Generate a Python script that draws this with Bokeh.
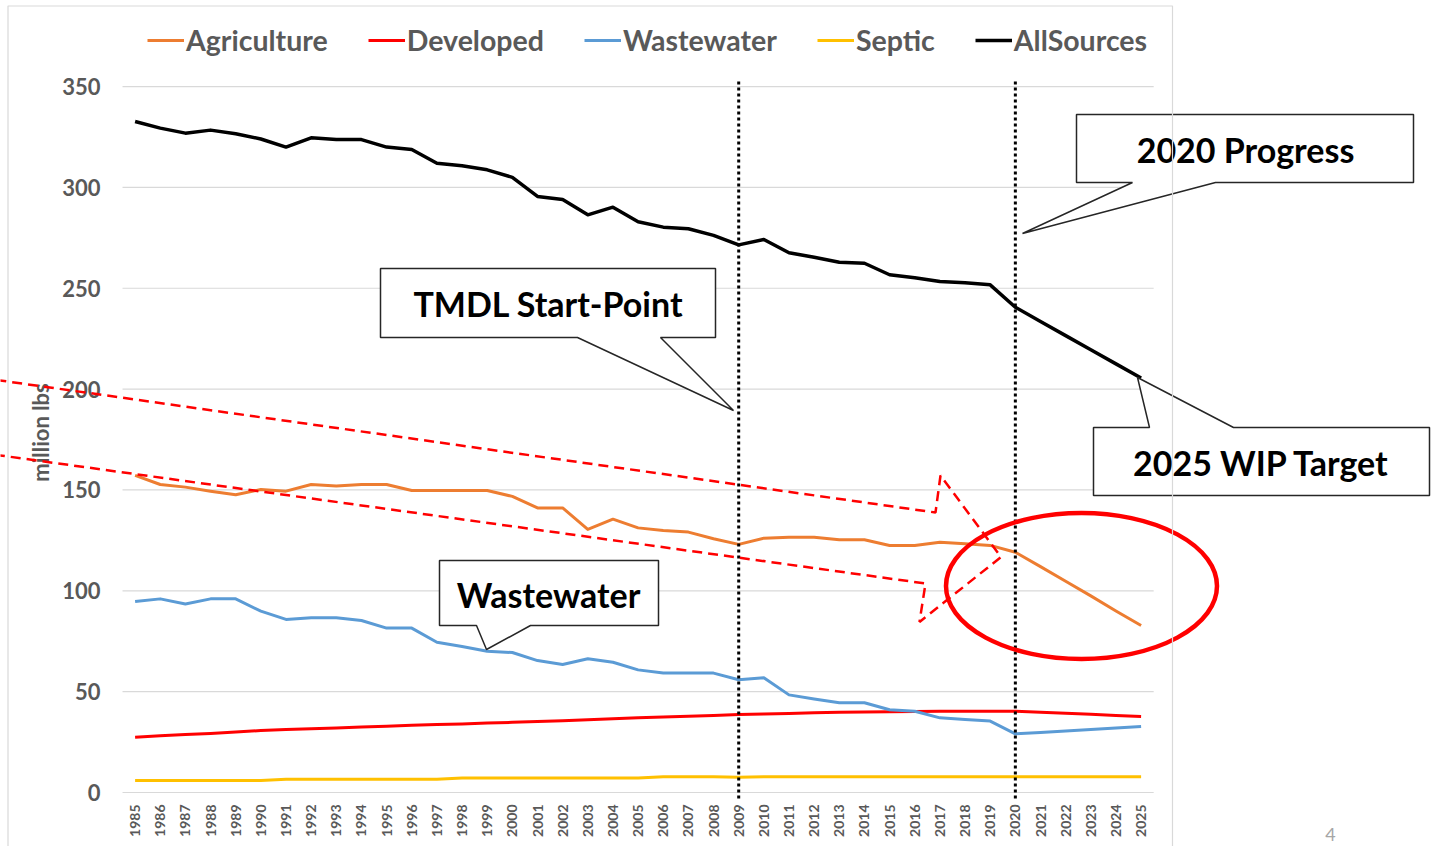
import math
from bokeh.plotting import figure
from bokeh.models import Range1d, Legend, LegendItem, PolyAnnotation, BoxAnnotation
from bokeh.core.properties import value
from bokeh.embed import file_html
from bokeh.resources import INLINE

# ---------------- data ----------------
years = list(range(1985, 2026))
agriculture = [157.2, 152.7, 151.4, 149.4, 147.6, 150.2, 149.4, 152.7, 151.9, 152.7,
               152.7, 149.7, 149.7, 149.7, 149.7, 146.8, 141.1, 141.1, 130.4, 135.5,
               131.2, 129.9, 129.1, 125.8, 123.0, 126.1, 126.6, 126.6, 125.3, 125.3,
               122.5, 122.5, 124.1, 123.3, 122.5, 119.1, 112.0, 104.7, 97.5, 90.0,
               82.8]
developed = [27.4, 28.1, 28.7, 29.3, 30.0, 30.7, 31.2, 31.6, 32.0, 32.5,
             32.9, 33.3, 33.7, 34.0, 34.4, 34.8, 35.2, 35.6, 36.1, 36.6,
             37.0, 37.4, 37.8, 38.2, 38.7, 38.9, 39.2, 39.5, 39.8, 39.9,
             40.0, 40.1, 40.3, 40.3, 40.3, 40.3, 39.8, 39.3, 38.8, 38.2,
             37.7]
wastewater = [94.7, 96.0, 93.5, 96.0, 96.0, 89.9, 85.8, 86.6, 86.6, 85.3,
              81.5, 81.5, 74.5, 72.4, 70.0, 69.4, 65.4, 63.5, 66.3, 64.6,
              60.8, 59.2, 59.2, 59.2, 55.9, 56.9, 48.4, 46.4, 44.5, 44.5,
              41.0, 40.3, 37.0, 36.2, 35.4, 29.1, 29.8, 30.5, 31.2, 32.0,
              32.7]
septic = [6.0, 6.0, 6.0, 6.0, 6.0, 6.0, 6.6, 6.6, 6.6, 6.6,
          6.6, 6.6, 6.6, 7.2, 7.2, 7.2, 7.2, 7.2, 7.2, 7.2,
          7.2, 7.8, 7.8, 7.8, 7.6, 7.8, 7.8, 7.8, 7.8, 7.8,
          7.8, 7.8, 7.8, 7.8, 7.8, 7.8, 7.8, 7.8, 7.8, 7.8,
          7.8]
all_sources = [332.7, 329.4, 326.9, 328.4, 326.6, 324.0, 320.0, 324.6, 323.7, 323.7,
               320.0, 318.8, 312.0, 310.7, 308.7, 305.0, 295.5, 294.0, 286.4, 290.2,
               283.0, 280.3, 279.5, 276.2, 271.5, 274.2, 267.6, 265.4, 262.9, 262.4,
               256.7, 255.2, 253.3, 252.7, 251.7, 240.6, 233.5, 226.5, 219.5, 212.5,
               205.5]
series_names = ["Agriculture", "Developed", "Wastewater", "Septic", "AllSources"]
series_colors = ["#ED7D31", "#FF0000", "#5B9BD5", "#FFC000", "#000000"]
y_ticks = [0, 50, 100, 150, 200, 250, 300, 350]
y_tick_labels = [str(t) for t in y_ticks]
x_tick_labels = [str(y) for y in years]
milestones = [2009, 2020]
y_label = "million lbs"
page_number = "4"

# ---------------- layout helpers (page pixels -> data) ----------------
PX0, PXY = 134.6, 25.15      # page x of first year, px per year
PY0, PYV = 792.0, 2.017      # page y of value 0, px per unit
W, H = 1432, 846


def sx(px):
    return years[0] + (px - PX0) / PXY


def sy(py):
    return (PY0 - py) / PYV


FONT = "Lato"
GRAY = "#595959"

p = figure(width=W, height=H, output_backend="svg", toolbar_location=None,
           title=None, x_axis_location=None, y_axis_location=None,
           x_range=Range1d(sx(0), sx(W)), y_range=Range1d(sy(H), sy(0)),
           min_border=0, min_border_left=0, min_border_right=0,
           min_border_top=0, min_border_bottom=0)
p.outline_line_color = None
p.xgrid.visible = False
p.ygrid.visible = False

# chart border
p.add_layout(BoxAnnotation(left=sx(7.5), right=sx(1172), top=sy(5.5), bottom=sy(860),
                           fill_alpha=0, line_color="#d9d9d9", line_width=1.2,
                           line_alpha=1))

# gridlines (only across the category band)
p.segment(x0=[years[0] - 0.5] * len(y_ticks), x1=[years[-1] + 0.5] * len(y_ticks),
          y0=y_ticks, y1=y_ticks, line_color="#d9d9d9", line_width=1.2)

# axis tick labels
p.text(x=[sx(100)] * len(y_ticks), y=y_ticks, text=y_tick_labels,
       text_font=value(FONT), text_font_style="bold", text_font_size="22px",
       text_color=GRAY, text_align="right", text_baseline="middle")
p.text(x=years, y=[sy(804)] * len(years), text=x_tick_labels, angle=math.pi / 2,
       text_font=value(FONT), text_font_style="bold", text_font_size="14px",
       text_color=GRAY, text_align="right", text_baseline="middle")
p.text(x=[sx(40)], y=[sy(432)], text=[y_label], angle=math.pi / 2,
       text_font=value(FONT), text_font_style="bold", text_font_size="22px",
       text_color=GRAY, text_align="center", text_baseline="middle")

# series
renderers = []
for name, col, vals in zip(series_names, series_colors,
                           [agriculture, developed, wastewater, septic, all_sources]):
    lw = 3.5 if name == "AllSources" else 3
    r = p.line(years, vals, line_color=col, line_width=lw, line_join="round")
    renderers.append(r)

# milestone dotted lines
for m in milestones:
    p.line([m, m], [sy(81), sy(800)], line_color="black", line_width=3,
           line_dash="3 3")

# red dashed block arrow
arrow_px = [(-20, 377.2), (935, 512), (940, 475), (1000.5, 556.5), (919, 621.5),
            (925, 583), (-20, 452.2)]
p.add_layout(PolyAnnotation(xs=[sx(a) for a, b in arrow_px], ys=[sy(b) for a, b in arrow_px],
                            fill_alpha=0, line_color="#FF0000", line_alpha=1,
                            line_width=2.5, line_dash="10 6"))

# red ellipse
p.ellipse(x=[sx(1081)], y=[sy(585.5)], width=[271 / PXY], height=[146 / PYV],
          fill_color=None, line_color="#FF0000", line_width=4.5)

# callouts
callouts = [
    ("TMDL Start-Point", [(380, 268), (715, 268), (715, 337), (660, 337), (733, 410),
                          (577, 337), (380, 337)], (548, 303)),
    ("2020 Progress", [(1076, 114), (1413, 114), (1413, 182), (1215, 182), (1022, 233),
                       (1132, 182), (1076, 182)], (1245, 149)),
    ("2025 WIP Target", [(1093, 427), (1149, 427), (1137, 377), (1233, 427), (1429, 427),
                         (1429, 495), (1093, 495)], (1261, 462)),
    ("Wastewater", [(439, 560), (658, 560), (658, 625), (530, 625), (486, 649),
                    (476, 625), (439, 625)], (548, 594)),
]
for txt, poly, (tx, ty) in callouts:
    p.patch([sx(a) for a, b in poly], [sy(b) for a, b in poly], fill_color="white",
            line_color="#262626", line_width=1.5)
    p.text(x=[sx(tx)], y=[sy(ty)], text=[txt], text_font=value(FONT),
           text_font_style="bold", text_font_size="34px", text_color="black",
           text_align="center", text_baseline="middle")

# page number
p.text(x=[sx(1330)], y=[sy(834)], text=[page_number], text_font=value(FONT),
       text_font_size="18px", text_color="#a6a6a6", text_align="center",
       text_baseline="middle")

# legend (inside the canvas frame, top)
legend = Legend(items=[LegendItem(label=n, renderers=[r]) for n, r in zip(series_names, renderers)],
                orientation="horizontal", location=(147, 789), margin=0, padding=4,
                spacing=40, glyph_width=37, glyph_height=30, label_height=30,
                label_standoff=2, label_text_font=FONT, label_text_font_style="bold",
                label_text_font_size="28.5px", label_text_color=GRAY,
                border_line_color=None, background_fill_alpha=0)
p.add_layout(legend)

open("out.html", "w").write(file_html(p, INLINE))
